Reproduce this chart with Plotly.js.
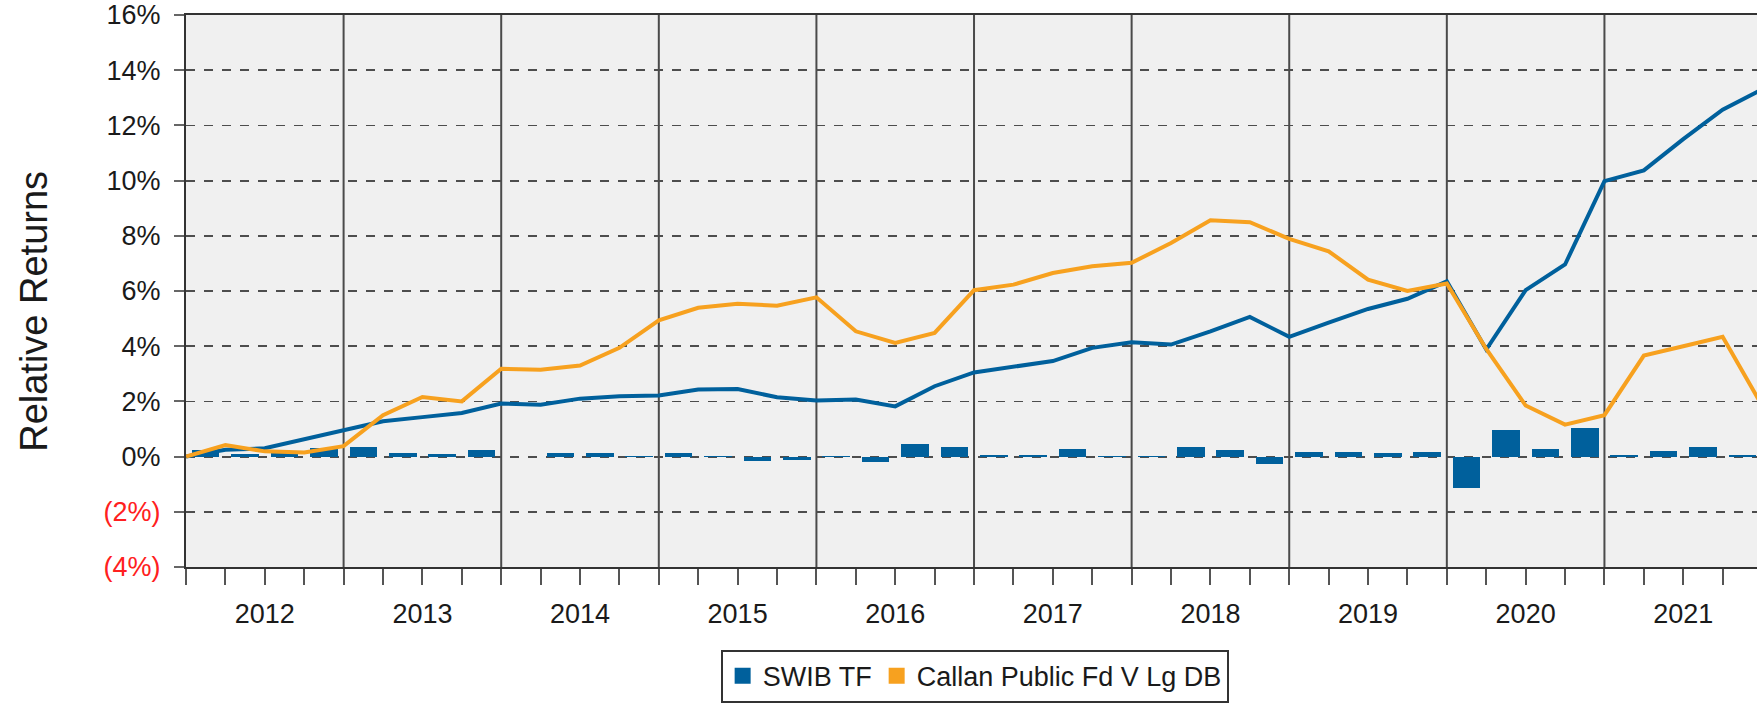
<!DOCTYPE html>
<html>
<head>
<meta charset="utf-8">
<script src="https://cdn.plot.ly/plotly-3.0.1.min.js"></script>
<style>html,body{margin:0;padding:0;background:#fff;overflow:hidden}</style>
</head>
<body>
<div id="chart" style="width:1757px;height:714px"></div>
<script>
// Calendar years shown on the x axis
const years = [2012, 2013, 2014, 2015, 2016, 2017, 2018, 2019, 2020, 2021];
const quarterStarts = [0, 0.25, 0.5, 0.75];

// SWIB TF quarterly relative return (bars), 2012Q1 .. 2021Q4
const swibQuarterly = [
  0.25, 0.08, 0.15, 0.30,
  0.34, 0.14, 0.10, 0.24,
  -0.03, 0.12, 0.12, 0.03,
  0.14, 0.02, -0.17, -0.14,
  0.02, -0.20, 0.46, 0.36,
  0.05, 0.05, 0.26, 0.03,
  0.02, 0.33, 0.25, -0.27,
  0.16, 0.16, 0.12, 0.17,
  -1.12, 0.95, 0.29, 1.04,
  0.07, 0.20, 0.35, 0.07
];

// Cumulative relative returns at quarter ends, start 2012 .. end 2021
const swibCumulative = [
  0, 0.25, 0.30, 0.62,
  0.93, 1.28, 1.43, 1.58,
  1.92, 1.88, 2.10, 2.19,
  2.21, 2.43, 2.45, 2.15,
  2.03, 2.07, 1.82, 2.55,
  3.05, 3.27, 3.46, 3.94,
  4.14, 4.06, 4.54, 5.06,
  4.34, 4.85, 5.35, 5.72,
  6.35, 3.88, 6.03, 6.96,
  9.98, 10.37, 11.50, 12.57,
  13.30
];
const callanCumulative = [
  0, 0.42, 0.19, 0.15,
  0.38, 1.50, 2.16, 2.00,
  3.18, 3.15, 3.30, 3.94,
  4.94, 5.39, 5.54, 5.47,
  5.77, 4.54, 4.12, 4.48,
  6.03, 6.23, 6.65, 6.90,
  7.02, 7.74, 8.56, 8.49,
  7.89, 7.44, 6.41, 6.00,
  6.27, 3.90, 1.85, 1.16,
  1.50, 3.66, 4.00, 4.34,
  1.85
];

// Y tick values and labels
const yTickVals = [-4, -2, 0, 2, 4, 6, 8, 10, 12, 14, 16];
const yTickText = ['(4%)', '(2%)', '0%', '2%', '4%', '6%', '8%', '10%', '12%', '14%', '16%'];

const seriesNames = ['SWIB TF', 'Callan Public Fd V Lg DB'];
const blue = '#00609c';
const orange = '#f7a11f';

// derived positions
const barX = [];
years.forEach(y => quarterStarts.forEach(q => barX.push(y + q + 0.125)));
const lineX = [];
years.forEach(y => quarterStarts.forEach(q => lineX.push(y + q)));
lineX.push(years[years.length - 1] + 1);
const yearMid = years.map(y => y + 0.5);

const font = 'Liberation Sans, Arial, sans-serif';

const traces = [
  {type: 'bar', x: barX, y: swibQuarterly, width: 0.175, marker: {color: blue},
   name: seriesNames[0], showlegend: false, hoverinfo: 'skip'},
  {type: 'scatter', mode: 'lines', x: lineX, y: swibCumulative,
   line: {color: blue, width: 4}, showlegend: false, name: seriesNames[0]},
  {type: 'scatter', mode: 'lines', x: lineX, y: callanCumulative,
   line: {color: orange, width: 4}, showlegend: false, name: seriesNames[1]},
  // legend keys (square swatches)
  {type: 'scatter', mode: 'markers', x: [null], y: [null],
   marker: {color: blue, symbol: 'square', size: 40}, name: seriesNames[0], showlegend: true},
  {type: 'scatter', mode: 'markers', x: [null], y: [null],
   marker: {color: orange, symbol: 'square', size: 40}, name: seriesNames[1], showlegend: true}
];

const shapes = years.slice(1).map(y => ({
  type: 'line', xref: 'x', yref: 'paper', x0: y, x1: y, y0: 0, y1: 1,
  line: {color: '#4a4a4a', width: 2}, layer: 'below'
}));

const layout = {
  width: 1757, height: 714, autosize: false,
  margin: {l: 186, r: 0, t: 15, b: 147},
  paper_bgcolor: '#ffffff', plot_bgcolor: '#f0f0f0',
  font: {family: font, size: 27, color: '#1a1a1a'},
  bargap: 0,
  xaxis: {
    range: [2012, 2021.968], fixedrange: true,
    tickmode: 'array', tickvals: yearMid, ticktext: years.map(String),
    ticks: '', showgrid: false, zeroline: false,
    showline: true, linecolor: '#333', linewidth: 2, mirror: true,
    tickfont: {family: font, size: 27, color: '#1a1a1a'},
    ticklabelstandoff: 22,
    minor: {tickmode: 'linear', tick0: 2012, dtick: 0.25, ticks: 'outside',
            ticklen: 16, tickwidth: 2, tickcolor: '#555', showgrid: false}
  },
  yaxis: {
    range: [-4, 16], fixedrange: true,
    tickmode: 'array', tickvals: yTickVals,
    ticktext: yTickText.map((t, i) => yTickVals[i] < 0 ? '<span style="color:#ff2020">' + t + '</span>' : t),
    ticks: 'outside', ticklen: 10, tickwidth: 2, tickcolor: '#666',
    showgrid: true, gridcolor: '#4d4d4d', gridwidth: 1.8, griddash: 'dash',
    zeroline: false,
    showline: true, linecolor: '#333', linewidth: 2, mirror: true,
    tickfont: {family: font, size: 27, color: '#1a1a1a'},
    ticklabelstandoff: 8
  },
  shapes: shapes,
  annotations: [{
    text: 'Relative Returns', textangle: -90, showarrow: false,
    xref: 'paper', yref: 'paper', x: -0.0968, y: 0.464,
    xanchor: 'center', yanchor: 'middle',
    font: {family: font, size: 38, color: '#1a1a1a'}
  }],
  legend: {
    orientation: 'h', x: 0.502, y: -0.15, xanchor: 'center', yanchor: 'top',
    bordercolor: '#333', borderwidth: 2, bgcolor: '#ffffff',
    font: {family: font, size: 27, color: '#1a1a1a'},
    traceorder: 'normal', itemsizing: 'trace', itemwidth: 30
  }
};

Plotly.newPlot('chart', traces, layout, {displayModeBar: false, staticPlot: true});
</script>
</body>
</html>
